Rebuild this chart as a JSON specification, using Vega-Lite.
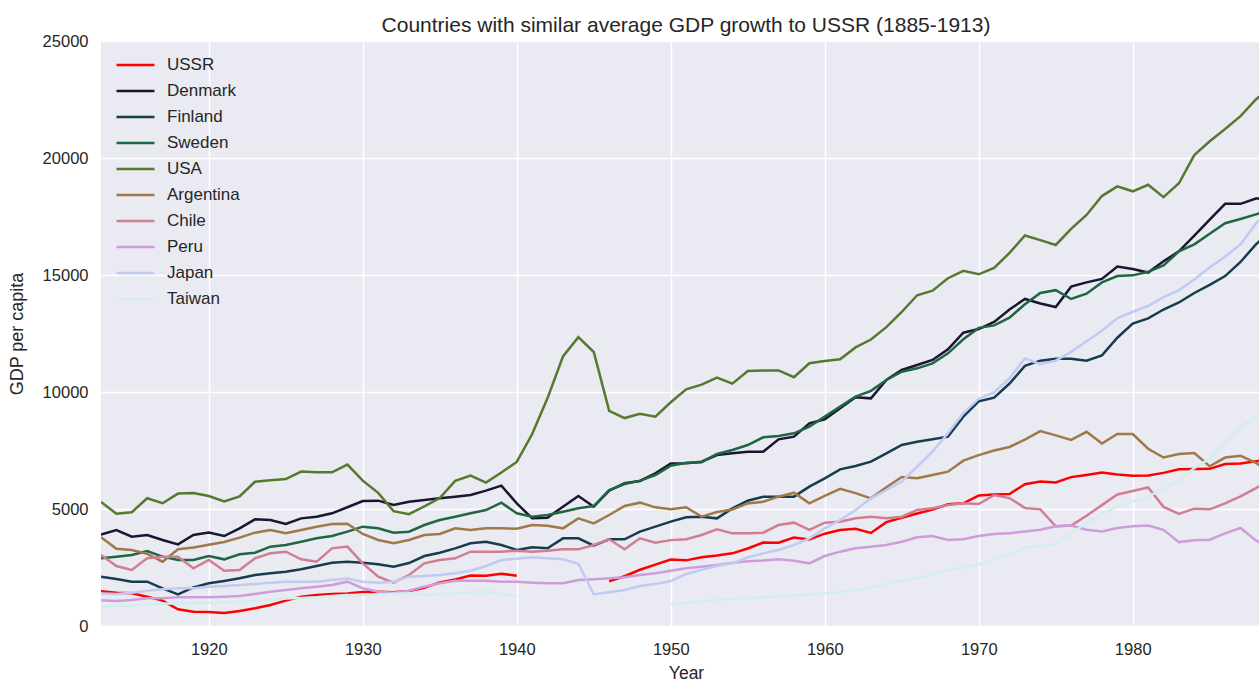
{
"$schema":"https://vega.github.io/schema/vega-lite/v6.json",
"width":1158,"height":585,
"autosize":{"type":"none"},
"padding":{"left":101,"top":41,"right":0,"bottom":56},
"background":"white",
"title":{"text":"Countries with similar average GDP growth to USSR (1885-1913)","font":"Liberation Sans","fontSize":21,"fontWeight":"normal","color":"#262626","anchor":"middle","offset":-3,"dx":6},
"config":{"view":{"fill":"#eaeaf2","stroke":null},
"axis":{"grid":true,"gridColor":"white","gridWidth":1.5,"domain":false,"ticks":false,"tickSize":0,"labelFont":"Liberation Sans","labelFontSize":16.5,"labelColor":"#262626","titleFont":"Liberation Sans","titleFontSize":18,"titleFontWeight":"normal","titleColor":"#262626"}},
"datasets":{"gdp":[
{"Country":"USSR","Year":1913,"GDP":1488},{"Country":"USSR","Year":1914,"GDP":1425},{"Country":"USSR","Year":1915,"GDP":1396},{"Country":"USSR","Year":1916,"GDP":1254},{"Country":"USSR","Year":1917,"GDP":1083},{"Country":"USSR","Year":1918,"GDP":712},{"Country":"USSR","Year":1919,"GDP":613},{"Country":"USSR","Year":1920,"GDP":600},{"Country":"USSR","Year":1921,"GDP":560},{"Country":"USSR","Year":1922,"GDP":640},{"Country":"USSR","Year":1923,"GDP":755},{"Country":"USSR","Year":1924,"GDP":897},{"Country":"USSR","Year":1925,"GDP":1083},{"Country":"USSR","Year":1926,"GDP":1254},{"Country":"USSR","Year":1927,"GDP":1325},{"Country":"USSR","Year":1928,"GDP":1370},{"Country":"USSR","Year":1929,"GDP":1386},{"Country":"USSR","Year":1930,"GDP":1448},{"Country":"USSR","Year":1931,"GDP":1462},{"Country":"USSR","Year":1932,"GDP":1439},{"Country":"USSR","Year":1933,"GDP":1493},{"Country":"USSR","Year":1934,"GDP":1630},{"Country":"USSR","Year":1935,"GDP":1864},{"Country":"USSR","Year":1936,"GDP":1991},{"Country":"USSR","Year":1937,"GDP":2156},{"Country":"USSR","Year":1938,"GDP":2150},{"Country":"USSR","Year":1939,"GDP":2237},{"Country":"USSR","Year":1940,"GDP":2144},{"Country":"USSR","Year":1941,"GDP":null},{"Country":"USSR","Year":1942,"GDP":null},{"Country":"USSR","Year":1943,"GDP":null},{"Country":"USSR","Year":1944,"GDP":null},{"Country":"USSR","Year":1945,"GDP":null},{"Country":"USSR","Year":1946,"GDP":1913},{"Country":"USSR","Year":1947,"GDP":2126},{"Country":"USSR","Year":1948,"GDP":2402},{"Country":"USSR","Year":1949,"GDP":2623},{"Country":"USSR","Year":1950,"GDP":2841},{"Country":"USSR","Year":1951,"GDP":2805},{"Country":"USSR","Year":1952,"GDP":2937},{"Country":"USSR","Year":1953,"GDP":3013},{"Country":"USSR","Year":1954,"GDP":3106},{"Country":"USSR","Year":1955,"GDP":3313},{"Country":"USSR","Year":1956,"GDP":3566},{"Country":"USSR","Year":1957,"GDP":3557},{"Country":"USSR","Year":1958,"GDP":3777},{"Country":"USSR","Year":1959,"GDP":3693},{"Country":"USSR","Year":1960,"GDP":3945},{"Country":"USSR","Year":1961,"GDP":4098},{"Country":"USSR","Year":1962,"GDP":4155},{"Country":"USSR","Year":1963,"GDP":3976},{"Country":"USSR","Year":1964,"GDP":4439},{"Country":"USSR","Year":1965,"GDP":4626},{"Country":"USSR","Year":1966,"GDP":4806},{"Country":"USSR","Year":1967,"GDP":4972},{"Country":"USSR","Year":1968,"GDP":5202},{"Country":"USSR","Year":1969,"GDP":5243},{"Country":"USSR","Year":1970,"GDP":5575},{"Country":"USSR","Year":1971,"GDP":5621},{"Country":"USSR","Year":1972,"GDP":5643},{"Country":"USSR","Year":1973,"GDP":6059},{"Country":"USSR","Year":1974,"GDP":6176},{"Country":"USSR","Year":1975,"GDP":6135},{"Country":"USSR","Year":1976,"GDP":6363},{"Country":"USSR","Year":1977,"GDP":6454},{"Country":"USSR","Year":1978,"GDP":6559},{"Country":"USSR","Year":1979,"GDP":6472},{"Country":"USSR","Year":1980,"GDP":6426},{"Country":"USSR","Year":1981,"GDP":6432},{"Country":"USSR","Year":1982,"GDP":6544},{"Country":"USSR","Year":1983,"GDP":6694},{"Country":"USSR","Year":1984,"GDP":6713},{"Country":"USSR","Year":1985,"GDP":6715},{"Country":"USSR","Year":1986,"GDP":6924},{"Country":"USSR","Year":1987,"GDP":6943},{"Country":"USSR","Year":1988,"GDP":7043},{"Country":"USSR","Year":1989,"GDP":7100},
{"Country":"Denmark","Year":1913,"GDP":3912},{"Country":"Denmark","Year":1914,"GDP":4100},{"Country":"Denmark","Year":1915,"GDP":3818},{"Country":"Denmark","Year":1916,"GDP":3890},{"Country":"Denmark","Year":1917,"GDP":3675},{"Country":"Denmark","Year":1918,"GDP":3490},{"Country":"Denmark","Year":1919,"GDP":3890},{"Country":"Denmark","Year":1920,"GDP":3990},{"Country":"Denmark","Year":1921,"GDP":3846},{"Country":"Denmark","Year":1922,"GDP":4174},{"Country":"Denmark","Year":1923,"GDP":4558},{"Country":"Denmark","Year":1924,"GDP":4530},{"Country":"Denmark","Year":1925,"GDP":4359},{"Country":"Denmark","Year":1926,"GDP":4600},{"Country":"Denmark","Year":1927,"GDP":4672},{"Country":"Denmark","Year":1928,"GDP":4815},{"Country":"Denmark","Year":1929,"GDP":5075},{"Country":"Denmark","Year":1930,"GDP":5341},{"Country":"Denmark","Year":1931,"GDP":5356},{"Country":"Denmark","Year":1932,"GDP":5171},{"Country":"Denmark","Year":1933,"GDP":5313},{"Country":"Denmark","Year":1934,"GDP":5385},{"Country":"Denmark","Year":1935,"GDP":5456},{"Country":"Denmark","Year":1936,"GDP":5527},{"Country":"Denmark","Year":1937,"GDP":5598},{"Country":"Denmark","Year":1938,"GDP":5783},{"Country":"Denmark","Year":1939,"GDP":5997},{"Country":"Denmark","Year":1940,"GDP":5242},{"Country":"Denmark","Year":1941,"GDP":4601},{"Country":"Denmark","Year":1942,"GDP":4630},{"Country":"Denmark","Year":1943,"GDP":5100},{"Country":"Denmark","Year":1944,"GDP":5556},{"Country":"Denmark","Year":1945,"GDP":5100},{"Country":"Denmark","Year":1946,"GDP":5783},{"Country":"Denmark","Year":1947,"GDP":6097},{"Country":"Denmark","Year":1948,"GDP":6197},{"Country":"Denmark","Year":1949,"GDP":6524},{"Country":"Denmark","Year":1950,"GDP":6943},{"Country":"Denmark","Year":1951,"GDP":6952},{"Country":"Denmark","Year":1952,"GDP":7023},{"Country":"Denmark","Year":1953,"GDP":7308},{"Country":"Denmark","Year":1954,"GDP":7379},{"Country":"Denmark","Year":1955,"GDP":7450},{"Country":"Denmark","Year":1956,"GDP":7450},{"Country":"Denmark","Year":1957,"GDP":7977},{"Country":"Denmark","Year":1958,"GDP":8091},{"Country":"Denmark","Year":1959,"GDP":8661},{"Country":"Denmark","Year":1960,"GDP":8832},{"Country":"Denmark","Year":1961,"GDP":9302},{"Country":"Denmark","Year":1962,"GDP":9772},{"Country":"Denmark","Year":1963,"GDP":9729},{"Country":"Denmark","Year":1964,"GDP":10513},{"Country":"Denmark","Year":1965,"GDP":10940},{"Country":"Denmark","Year":1966,"GDP":11154},{"Country":"Denmark","Year":1967,"GDP":11368},{"Country":"Denmark","Year":1968,"GDP":11823},{"Country":"Denmark","Year":1969,"GDP":12536},{"Country":"Denmark","Year":1970,"GDP":12690},{"Country":"Denmark","Year":1971,"GDP":12997},{"Country":"Denmark","Year":1972,"GDP":13524},{"Country":"Denmark","Year":1973,"GDP":13976},{"Country":"Denmark","Year":1974,"GDP":13780},{"Country":"Denmark","Year":1975,"GDP":13630},{"Country":"Denmark","Year":1976,"GDP":14503},{"Country":"Denmark","Year":1977,"GDP":14684},{"Country":"Denmark","Year":1978,"GDP":14834},{"Country":"Denmark","Year":1979,"GDP":15362},{"Country":"Denmark","Year":1980,"GDP":15256},{"Country":"Denmark","Year":1981,"GDP":15105},{"Country":"Denmark","Year":1982,"GDP":15587},{"Country":"Denmark","Year":1983,"GDP":16009},{"Country":"Denmark","Year":1984,"GDP":16687},{"Country":"Denmark","Year":1985,"GDP":17365},{"Country":"Denmark","Year":1986,"GDP":18042},{"Country":"Denmark","Year":1987,"GDP":18042},{"Country":"Denmark","Year":1988,"GDP":18268},{"Country":"Denmark","Year":1989,"GDP":18300},
{"Country":"Finland","Year":1913,"GDP":2108},{"Country":"Finland","Year":1914,"GDP":2009},{"Country":"Finland","Year":1915,"GDP":1895},{"Country":"Finland","Year":1916,"GDP":1895},{"Country":"Finland","Year":1917,"GDP":1610},{"Country":"Finland","Year":1918,"GDP":1353},{"Country":"Finland","Year":1919,"GDP":1652},{"Country":"Finland","Year":1920,"GDP":1823},{"Country":"Finland","Year":1921,"GDP":1923},{"Country":"Finland","Year":1922,"GDP":2037},{"Country":"Finland","Year":1923,"GDP":2179},{"Country":"Finland","Year":1924,"GDP":2251},{"Country":"Finland","Year":1925,"GDP":2322},{"Country":"Finland","Year":1926,"GDP":2422},{"Country":"Finland","Year":1927,"GDP":2564},{"Country":"Finland","Year":1928,"GDP":2707},{"Country":"Finland","Year":1929,"GDP":2749},{"Country":"Finland","Year":1930,"GDP":2707},{"Country":"Finland","Year":1931,"GDP":2635},{"Country":"Finland","Year":1932,"GDP":2536},{"Country":"Finland","Year":1933,"GDP":2690},{"Country":"Finland","Year":1934,"GDP":2991},{"Country":"Finland","Year":1935,"GDP":3134},{"Country":"Finland","Year":1936,"GDP":3319},{"Country":"Finland","Year":1937,"GDP":3533},{"Country":"Finland","Year":1938,"GDP":3604},{"Country":"Finland","Year":1939,"GDP":3462},{"Country":"Finland","Year":1940,"GDP":3248},{"Country":"Finland","Year":1941,"GDP":3362},{"Country":"Finland","Year":1942,"GDP":3319},{"Country":"Finland","Year":1943,"GDP":3746},{"Country":"Finland","Year":1944,"GDP":3746},{"Country":"Finland","Year":1945,"GDP":3433},{"Country":"Finland","Year":1946,"GDP":3704},{"Country":"Finland","Year":1947,"GDP":3704},{"Country":"Finland","Year":1948,"GDP":4031},{"Country":"Finland","Year":1949,"GDP":4245},{"Country":"Finland","Year":1950,"GDP":4459},{"Country":"Finland","Year":1951,"GDP":4644},{"Country":"Finland","Year":1952,"GDP":4672},{"Country":"Finland","Year":1953,"GDP":4601},{"Country":"Finland","Year":1954,"GDP":5028},{"Country":"Finland","Year":1955,"GDP":5356},{"Country":"Finland","Year":1956,"GDP":5527},{"Country":"Finland","Year":1957,"GDP":5527},{"Country":"Finland","Year":1958,"GDP":5527},{"Country":"Finland","Year":1959,"GDP":5954},{"Country":"Finland","Year":1960,"GDP":6311},{"Country":"Finland","Year":1961,"GDP":6695},{"Country":"Finland","Year":1962,"GDP":6838},{"Country":"Finland","Year":1963,"GDP":7023},{"Country":"Finland","Year":1964,"GDP":7379},{"Country":"Finland","Year":1965,"GDP":7735},{"Country":"Finland","Year":1966,"GDP":7877},{"Country":"Finland","Year":1967,"GDP":7977},{"Country":"Finland","Year":1968,"GDP":8091},{"Country":"Finland","Year":1969,"GDP":8946},{"Country":"Finland","Year":1970,"GDP":9600},{"Country":"Finland","Year":1971,"GDP":9759},{"Country":"Finland","Year":1972,"GDP":10362},{"Country":"Finland","Year":1973,"GDP":11115},{"Country":"Finland","Year":1974,"GDP":11340},{"Country":"Finland","Year":1975,"GDP":11416},{"Country":"Finland","Year":1976,"GDP":11416},{"Country":"Finland","Year":1977,"GDP":11340},{"Country":"Finland","Year":1978,"GDP":11566},{"Country":"Finland","Year":1979,"GDP":12319},{"Country":"Finland","Year":1980,"GDP":12922},{"Country":"Finland","Year":1981,"GDP":13147},{"Country":"Finland","Year":1982,"GDP":13524},{"Country":"Finland","Year":1983,"GDP":13825},{"Country":"Finland","Year":1984,"GDP":14232},{"Country":"Finland","Year":1985,"GDP":14578},{"Country":"Finland","Year":1986,"GDP":14955},{"Country":"Finland","Year":1987,"GDP":15557},{"Country":"Finland","Year":1988,"GDP":16310},{"Country":"Finland","Year":1989,"GDP":16900},
{"Country":"Sweden","Year":1913,"GDP":2892},{"Country":"Sweden","Year":1914,"GDP":2963},{"Country":"Sweden","Year":1915,"GDP":3034},{"Country":"Sweden","Year":1916,"GDP":3205},{"Country":"Sweden","Year":1917,"GDP":2963},{"Country":"Sweden","Year":1918,"GDP":2821},{"Country":"Sweden","Year":1919,"GDP":2821},{"Country":"Sweden","Year":1920,"GDP":2991},{"Country":"Sweden","Year":1921,"GDP":2849},{"Country":"Sweden","Year":1922,"GDP":3063},{"Country":"Sweden","Year":1923,"GDP":3134},{"Country":"Sweden","Year":1924,"GDP":3390},{"Country":"Sweden","Year":1925,"GDP":3462},{"Country":"Sweden","Year":1926,"GDP":3604},{"Country":"Sweden","Year":1927,"GDP":3746},{"Country":"Sweden","Year":1928,"GDP":3846},{"Country":"Sweden","Year":1929,"GDP":4031},{"Country":"Sweden","Year":1930,"GDP":4245},{"Country":"Sweden","Year":1931,"GDP":4174},{"Country":"Sweden","Year":1932,"GDP":3989},{"Country":"Sweden","Year":1933,"GDP":4031},{"Country":"Sweden","Year":1934,"GDP":4316},{"Country":"Sweden","Year":1935,"GDP":4530},{"Country":"Sweden","Year":1936,"GDP":4672},{"Country":"Sweden","Year":1937,"GDP":4815},{"Country":"Sweden","Year":1938,"GDP":4957},{"Country":"Sweden","Year":1939,"GDP":5271},{"Country":"Sweden","Year":1940,"GDP":4815},{"Country":"Sweden","Year":1941,"GDP":4672},{"Country":"Sweden","Year":1942,"GDP":4744},{"Country":"Sweden","Year":1943,"GDP":4886},{"Country":"Sweden","Year":1944,"GDP":5028},{"Country":"Sweden","Year":1945,"GDP":5128},{"Country":"Sweden","Year":1946,"GDP":5812},{"Country":"Sweden","Year":1947,"GDP":6068},{"Country":"Sweden","Year":1948,"GDP":6211},{"Country":"Sweden","Year":1949,"GDP":6453},{"Country":"Sweden","Year":1950,"GDP":6852},{"Country":"Sweden","Year":1951,"GDP":6980},{"Country":"Sweden","Year":1952,"GDP":7000},{"Country":"Sweden","Year":1953,"GDP":7350},{"Country":"Sweden","Year":1954,"GDP":7521},{"Country":"Sweden","Year":1955,"GDP":7735},{"Country":"Sweden","Year":1956,"GDP":8063},{"Country":"Sweden","Year":1957,"GDP":8120},{"Country":"Sweden","Year":1958,"GDP":8234},{"Country":"Sweden","Year":1959,"GDP":8519},{"Country":"Sweden","Year":1960,"GDP":8946},{"Country":"Sweden","Year":1961,"GDP":9373},{"Country":"Sweden","Year":1962,"GDP":9801},{"Country":"Sweden","Year":1963,"GDP":10050},{"Country":"Sweden","Year":1964,"GDP":10513},{"Country":"Sweden","Year":1965,"GDP":10869},{"Country":"Sweden","Year":1966,"GDP":11011},{"Country":"Sweden","Year":1967,"GDP":11225},{"Country":"Sweden","Year":1968,"GDP":11652},{"Country":"Sweden","Year":1969,"GDP":12251},{"Country":"Sweden","Year":1970,"GDP":12740},{"Country":"Sweden","Year":1971,"GDP":12847},{"Country":"Sweden","Year":1972,"GDP":13178},{"Country":"Sweden","Year":1973,"GDP":13750},{"Country":"Sweden","Year":1974,"GDP":14232},{"Country":"Sweden","Year":1975,"GDP":14352},{"Country":"Sweden","Year":1976,"GDP":13976},{"Country":"Sweden","Year":1977,"GDP":14202},{"Country":"Sweden","Year":1978,"GDP":14684},{"Country":"Sweden","Year":1979,"GDP":14955},{"Country":"Sweden","Year":1980,"GDP":14985},{"Country":"Sweden","Year":1981,"GDP":15136},{"Country":"Sweden","Year":1982,"GDP":15407},{"Country":"Sweden","Year":1983,"GDP":16009},{"Country":"Sweden","Year":1984,"GDP":16310},{"Country":"Sweden","Year":1985,"GDP":16762},{"Country":"Sweden","Year":1986,"GDP":17214},{"Country":"Sweden","Year":1987,"GDP":17395},{"Country":"Sweden","Year":1988,"GDP":17590},{"Country":"Sweden","Year":1989,"GDP":17800},
{"Country":"USA","Year":1913,"GDP":5301},{"Country":"USA","Year":1914,"GDP":4799},{"Country":"USA","Year":1915,"GDP":4864},{"Country":"USA","Year":1916,"GDP":5459},{"Country":"USA","Year":1917,"GDP":5248},{"Country":"USA","Year":1918,"GDP":5659},{"Country":"USA","Year":1919,"GDP":5680},{"Country":"USA","Year":1920,"GDP":5552},{"Country":"USA","Year":1921,"GDP":5323},{"Country":"USA","Year":1922,"GDP":5540},{"Country":"USA","Year":1923,"GDP":6164},{"Country":"USA","Year":1924,"GDP":6233},{"Country":"USA","Year":1925,"GDP":6282},{"Country":"USA","Year":1926,"GDP":6602},{"Country":"USA","Year":1927,"GDP":6575},{"Country":"USA","Year":1928,"GDP":6569},{"Country":"USA","Year":1929,"GDP":6899},{"Country":"USA","Year":1930,"GDP":6213},{"Country":"USA","Year":1931,"GDP":5691},{"Country":"USA","Year":1932,"GDP":4908},{"Country":"USA","Year":1933,"GDP":4777},{"Country":"USA","Year":1934,"GDP":5114},{"Country":"USA","Year":1935,"GDP":5467},{"Country":"USA","Year":1936,"GDP":6204},{"Country":"USA","Year":1937,"GDP":6430},{"Country":"USA","Year":1938,"GDP":6126},{"Country":"USA","Year":1939,"GDP":6561},{"Country":"USA","Year":1940,"GDP":7010},{"Country":"USA","Year":1941,"GDP":8206},{"Country":"USA","Year":1942,"GDP":9741},{"Country":"USA","Year":1943,"GDP":11518},{"Country":"USA","Year":1944,"GDP":12341},{"Country":"USA","Year":1945,"GDP":11709},{"Country":"USA","Year":1946,"GDP":9197},{"Country":"USA","Year":1947,"GDP":8886},{"Country":"USA","Year":1948,"GDP":9065},{"Country":"USA","Year":1949,"GDP":8944},{"Country":"USA","Year":1950,"GDP":9561},{"Country":"USA","Year":1951,"GDP":10116},{"Country":"USA","Year":1952,"GDP":10316},{"Country":"USA","Year":1953,"GDP":10613},{"Country":"USA","Year":1954,"GDP":10359},{"Country":"USA","Year":1955,"GDP":10897},{"Country":"USA","Year":1956,"GDP":10914},{"Country":"USA","Year":1957,"GDP":10920},{"Country":"USA","Year":1958,"GDP":10631},{"Country":"USA","Year":1959,"GDP":11230},{"Country":"USA","Year":1960,"GDP":11328},{"Country":"USA","Year":1961,"GDP":11402},{"Country":"USA","Year":1962,"GDP":11905},{"Country":"USA","Year":1963,"GDP":12242},{"Country":"USA","Year":1964,"GDP":12773},{"Country":"USA","Year":1965,"GDP":13419},{"Country":"USA","Year":1966,"GDP":14134},{"Country":"USA","Year":1967,"GDP":14330},{"Country":"USA","Year":1968,"GDP":14863},{"Country":"USA","Year":1969,"GDP":15179},{"Country":"USA","Year":1970,"GDP":15030},{"Country":"USA","Year":1971,"GDP":15304},{"Country":"USA","Year":1972,"GDP":15944},{"Country":"USA","Year":1973,"GDP":16689},{"Country":"USA","Year":1974,"GDP":16491},{"Country":"USA","Year":1975,"GDP":16284},{"Country":"USA","Year":1976,"GDP":16975},{"Country":"USA","Year":1977,"GDP":17567},{"Country":"USA","Year":1978,"GDP":18373},{"Country":"USA","Year":1979,"GDP":18789},{"Country":"USA","Year":1980,"GDP":18577},{"Country":"USA","Year":1981,"GDP":18856},{"Country":"USA","Year":1982,"GDP":18325},{"Country":"USA","Year":1983,"GDP":18920},{"Country":"USA","Year":1984,"GDP":20123},{"Country":"USA","Year":1985,"GDP":20717},{"Country":"USA","Year":1986,"GDP":21236},{"Country":"USA","Year":1987,"GDP":21788},{"Country":"USA","Year":1988,"GDP":22499},{"Country":"USA","Year":1989,"GDP":23059},
{"Country":"Argentina","Year":1913,"GDP":3797},{"Country":"Argentina","Year":1914,"GDP":3302},{"Country":"Argentina","Year":1915,"GDP":3244},{"Country":"Argentina","Year":1916,"GDP":3081},{"Country":"Argentina","Year":1917,"GDP":2750},{"Country":"Argentina","Year":1918,"GDP":3277},{"Country":"Argentina","Year":1919,"GDP":3356},{"Country":"Argentina","Year":1920,"GDP":3473},{"Country":"Argentina","Year":1921,"GDP":3589},{"Country":"Argentina","Year":1922,"GDP":3778},{"Country":"Argentina","Year":1923,"GDP":3989},{"Country":"Argentina","Year":1924,"GDP":4103},{"Country":"Argentina","Year":1925,"GDP":3960},{"Country":"Argentina","Year":1926,"GDP":4103},{"Country":"Argentina","Year":1927,"GDP":4245},{"Country":"Argentina","Year":1928,"GDP":4359},{"Country":"Argentina","Year":1929,"GDP":4367},{"Country":"Argentina","Year":1930,"GDP":3932},{"Country":"Argentina","Year":1931,"GDP":3675},{"Country":"Argentina","Year":1932,"GDP":3533},{"Country":"Argentina","Year":1933,"GDP":3675},{"Country":"Argentina","Year":1934,"GDP":3889},{"Country":"Argentina","Year":1935,"GDP":3932},{"Country":"Argentina","Year":1936,"GDP":4174},{"Country":"Argentina","Year":1937,"GDP":4103},{"Country":"Argentina","Year":1938,"GDP":4174},{"Country":"Argentina","Year":1939,"GDP":4174},{"Country":"Argentina","Year":1940,"GDP":4161},{"Country":"Argentina","Year":1941,"GDP":4316},{"Country":"Argentina","Year":1942,"GDP":4288},{"Country":"Argentina","Year":1943,"GDP":4174},{"Country":"Argentina","Year":1944,"GDP":4601},{"Country":"Argentina","Year":1945,"GDP":4387},{"Country":"Argentina","Year":1946,"GDP":4744},{"Country":"Argentina","Year":1947,"GDP":5128},{"Country":"Argentina","Year":1948,"GDP":5271},{"Country":"Argentina","Year":1949,"GDP":5071},{"Country":"Argentina","Year":1950,"GDP":4987},{"Country":"Argentina","Year":1951,"GDP":5073},{"Country":"Argentina","Year":1952,"GDP":4672},{"Country":"Argentina","Year":1953,"GDP":4874},{"Country":"Argentina","Year":1954,"GDP":4981},{"Country":"Argentina","Year":1955,"GDP":5237},{"Country":"Argentina","Year":1956,"GDP":5313},{"Country":"Argentina","Year":1957,"GDP":5527},{"Country":"Argentina","Year":1958,"GDP":5698},{"Country":"Argentina","Year":1959,"GDP":5242},{"Country":"Argentina","Year":1960,"GDP":5559},{"Country":"Argentina","Year":1961,"GDP":5862},{"Country":"Argentina","Year":1962,"GDP":5677},{"Country":"Argentina","Year":1963,"GDP":5455},{"Country":"Argentina","Year":1964,"GDP":5926},{"Country":"Argentina","Year":1965,"GDP":6371},{"Country":"Argentina","Year":1966,"GDP":6311},{"Country":"Argentina","Year":1967,"GDP":6453},{"Country":"Argentina","Year":1968,"GDP":6595},{"Country":"Argentina","Year":1969,"GDP":7066},{"Country":"Argentina","Year":1970,"GDP":7302},{"Country":"Argentina","Year":1971,"GDP":7500},{"Country":"Argentina","Year":1972,"GDP":7651},{"Country":"Argentina","Year":1973,"GDP":7962},{"Country":"Argentina","Year":1974,"GDP":8329},{"Country":"Argentina","Year":1975,"GDP":8148},{"Country":"Argentina","Year":1976,"GDP":7952},{"Country":"Argentina","Year":1977,"GDP":8299},{"Country":"Argentina","Year":1978,"GDP":7801},{"Country":"Argentina","Year":1979,"GDP":8208},{"Country":"Argentina","Year":1980,"GDP":8206},{"Country":"Argentina","Year":1981,"GDP":7575},{"Country":"Argentina","Year":1982,"GDP":7199},{"Country":"Argentina","Year":1983,"GDP":7350},{"Country":"Argentina","Year":1984,"GDP":7395},{"Country":"Argentina","Year":1985,"GDP":6823},{"Country":"Argentina","Year":1986,"GDP":7199},{"Country":"Argentina","Year":1987,"GDP":7274},{"Country":"Argentina","Year":1988,"GDP":6974},{"Country":"Argentina","Year":1989,"GDP":6500},
{"Country":"Chile","Year":1913,"GDP":3034},{"Country":"Chile","Year":1914,"GDP":2564},{"Country":"Chile","Year":1915,"GDP":2393},{"Country":"Chile","Year":1916,"GDP":2892},{"Country":"Chile","Year":1917,"GDP":2963},{"Country":"Chile","Year":1918,"GDP":2963},{"Country":"Chile","Year":1919,"GDP":2464},{"Country":"Chile","Year":1920,"GDP":2821},{"Country":"Chile","Year":1921,"GDP":2365},{"Country":"Chile","Year":1922,"GDP":2393},{"Country":"Chile","Year":1923,"GDP":2892},{"Country":"Chile","Year":1924,"GDP":3105},{"Country":"Chile","Year":1925,"GDP":3177},{"Country":"Chile","Year":1926,"GDP":2849},{"Country":"Chile","Year":1927,"GDP":2749},{"Country":"Chile","Year":1928,"GDP":3319},{"Country":"Chile","Year":1929,"GDP":3396},{"Country":"Chile","Year":1930,"GDP":2678},{"Country":"Chile","Year":1931,"GDP":2108},{"Country":"Chile","Year":1932,"GDP":1852},{"Country":"Chile","Year":1933,"GDP":2179},{"Country":"Chile","Year":1934,"GDP":2678},{"Country":"Chile","Year":1935,"GDP":2821},{"Country":"Chile","Year":1936,"GDP":2892},{"Country":"Chile","Year":1937,"GDP":3177},{"Country":"Chile","Year":1938,"GDP":3177},{"Country":"Chile","Year":1939,"GDP":3177},{"Country":"Chile","Year":1940,"GDP":3219},{"Country":"Chile","Year":1941,"GDP":3177},{"Country":"Chile","Year":1942,"GDP":3219},{"Country":"Chile","Year":1943,"GDP":3276},{"Country":"Chile","Year":1944,"GDP":3276},{"Country":"Chile","Year":1945,"GDP":3462},{"Country":"Chile","Year":1946,"GDP":3704},{"Country":"Chile","Year":1947,"GDP":3276},{"Country":"Chile","Year":1948,"GDP":3746},{"Country":"Chile","Year":1949,"GDP":3561},{"Country":"Chile","Year":1950,"GDP":3670},{"Country":"Chile","Year":1951,"GDP":3704},{"Country":"Chile","Year":1952,"GDP":3889},{"Country":"Chile","Year":1953,"GDP":4131},{"Country":"Chile","Year":1954,"GDP":3960},{"Country":"Chile","Year":1955,"GDP":3960},{"Country":"Chile","Year":1956,"GDP":3989},{"Country":"Chile","Year":1957,"GDP":4316},{"Country":"Chile","Year":1958,"GDP":4416},{"Country":"Chile","Year":1959,"GDP":4103},{"Country":"Chile","Year":1960,"GDP":4416},{"Country":"Chile","Year":1961,"GDP":4459},{"Country":"Chile","Year":1962,"GDP":4601},{"Country":"Chile","Year":1963,"GDP":4672},{"Country":"Chile","Year":1964,"GDP":4601},{"Country":"Chile","Year":1965,"GDP":4672},{"Country":"Chile","Year":1966,"GDP":4957},{"Country":"Chile","Year":1967,"GDP":5028},{"Country":"Chile","Year":1968,"GDP":5171},{"Country":"Chile","Year":1969,"GDP":5242},{"Country":"Chile","Year":1970,"GDP":5214},{"Country":"Chile","Year":1971,"GDP":5598},{"Country":"Chile","Year":1972,"GDP":5467},{"Country":"Chile","Year":1973,"GDP":5046},{"Country":"Chile","Year":1974,"GDP":4985},{"Country":"Chile","Year":1975,"GDP":4262},{"Country":"Chile","Year":1976,"GDP":4292},{"Country":"Chile","Year":1977,"GDP":4714},{"Country":"Chile","Year":1978,"GDP":5166},{"Country":"Chile","Year":1979,"GDP":5618},{"Country":"Chile","Year":1980,"GDP":5768},{"Country":"Chile","Year":1981,"GDP":5919},{"Country":"Chile","Year":1982,"GDP":5091},{"Country":"Chile","Year":1983,"GDP":4789},{"Country":"Chile","Year":1984,"GDP":5015},{"Country":"Chile","Year":1985,"GDP":4985},{"Country":"Chile","Year":1986,"GDP":5241},{"Country":"Chile","Year":1987,"GDP":5542},{"Country":"Chile","Year":1988,"GDP":5889},{"Country":"Chile","Year":1989,"GDP":6300},
{"Country":"Peru","Year":1913,"GDP":1100},{"Country":"Peru","Year":1914,"GDP":1068},{"Country":"Peru","Year":1915,"GDP":1111},{"Country":"Peru","Year":1916,"GDP":1182},{"Country":"Peru","Year":1917,"GDP":1182},{"Country":"Peru","Year":1918,"GDP":1225},{"Country":"Peru","Year":1919,"GDP":1225},{"Country":"Peru","Year":1920,"GDP":1225},{"Country":"Peru","Year":1921,"GDP":1254},{"Country":"Peru","Year":1922,"GDP":1282},{"Country":"Peru","Year":1923,"GDP":1368},{"Country":"Peru","Year":1924,"GDP":1467},{"Country":"Peru","Year":1925,"GDP":1538},{"Country":"Peru","Year":1926,"GDP":1610},{"Country":"Peru","Year":1927,"GDP":1681},{"Country":"Peru","Year":1928,"GDP":1752},{"Country":"Peru","Year":1929,"GDP":1895},{"Country":"Peru","Year":1930,"GDP":1610},{"Country":"Peru","Year":1931,"GDP":1467},{"Country":"Peru","Year":1932,"GDP":1425},{"Country":"Peru","Year":1933,"GDP":1510},{"Country":"Peru","Year":1934,"GDP":1681},{"Country":"Peru","Year":1935,"GDP":1823},{"Country":"Peru","Year":1936,"GDP":1937},{"Country":"Peru","Year":1937,"GDP":1937},{"Country":"Peru","Year":1938,"GDP":1937},{"Country":"Peru","Year":1939,"GDP":1895},{"Country":"Peru","Year":1940,"GDP":1895},{"Country":"Peru","Year":1941,"GDP":1852},{"Country":"Peru","Year":1942,"GDP":1823},{"Country":"Peru","Year":1943,"GDP":1823},{"Country":"Peru","Year":1944,"GDP":1966},{"Country":"Peru","Year":1945,"GDP":1994},{"Country":"Peru","Year":1946,"GDP":2037},{"Country":"Peru","Year":1947,"GDP":2080},{"Country":"Peru","Year":1948,"GDP":2179},{"Country":"Peru","Year":1949,"GDP":2251},{"Country":"Peru","Year":1950,"GDP":2365},{"Country":"Peru","Year":1951,"GDP":2464},{"Country":"Peru","Year":1952,"GDP":2536},{"Country":"Peru","Year":1953,"GDP":2607},{"Country":"Peru","Year":1954,"GDP":2700},{"Country":"Peru","Year":1955,"GDP":2770},{"Country":"Peru","Year":1956,"GDP":2800},{"Country":"Peru","Year":1957,"GDP":2849},{"Country":"Peru","Year":1958,"GDP":2792},{"Country":"Peru","Year":1959,"GDP":2678},{"Country":"Peru","Year":1960,"GDP":2991},{"Country":"Peru","Year":1961,"GDP":3177},{"Country":"Peru","Year":1962,"GDP":3319},{"Country":"Peru","Year":1963,"GDP":3390},{"Country":"Peru","Year":1964,"GDP":3462},{"Country":"Peru","Year":1965,"GDP":3604},{"Country":"Peru","Year":1966,"GDP":3789},{"Country":"Peru","Year":1967,"GDP":3846},{"Country":"Peru","Year":1968,"GDP":3675},{"Country":"Peru","Year":1969,"GDP":3704},{"Country":"Peru","Year":1970,"GDP":3850},{"Country":"Peru","Year":1971,"GDP":3931},{"Country":"Peru","Year":1972,"GDP":3961},{"Country":"Peru","Year":1973,"GDP":4036},{"Country":"Peru","Year":1974,"GDP":4112},{"Country":"Peru","Year":1975,"GDP":4262},{"Country":"Peru","Year":1976,"GDP":4292},{"Country":"Peru","Year":1977,"GDP":4112},{"Country":"Peru","Year":1978,"GDP":4036},{"Country":"Peru","Year":1979,"GDP":4187},{"Country":"Peru","Year":1980,"GDP":4262},{"Country":"Peru","Year":1981,"GDP":4292},{"Country":"Peru","Year":1982,"GDP":4112},{"Country":"Peru","Year":1983,"GDP":3585},{"Country":"Peru","Year":1984,"GDP":3660},{"Country":"Peru","Year":1985,"GDP":3690},{"Country":"Peru","Year":1986,"GDP":3961},{"Country":"Peru","Year":1987,"GDP":4187},{"Country":"Peru","Year":1988,"GDP":3660},{"Country":"Peru","Year":1989,"GDP":3300},
{"Country":"Japan","Year":1913,"GDP":1387},{"Country":"Japan","Year":1914,"GDP":1368},{"Country":"Japan","Year":1915,"GDP":1425},{"Country":"Japan","Year":1916,"GDP":1510},{"Country":"Japan","Year":1917,"GDP":1567},{"Country":"Japan","Year":1918,"GDP":1610},{"Country":"Japan","Year":1919,"GDP":1610},{"Country":"Japan","Year":1920,"GDP":1681},{"Country":"Japan","Year":1921,"GDP":1709},{"Country":"Japan","Year":1922,"GDP":1752},{"Country":"Japan","Year":1923,"GDP":1795},{"Country":"Japan","Year":1924,"GDP":1852},{"Country":"Japan","Year":1925,"GDP":1895},{"Country":"Japan","Year":1926,"GDP":1895},{"Country":"Japan","Year":1927,"GDP":1895},{"Country":"Japan","Year":1928,"GDP":1966},{"Country":"Japan","Year":1929,"GDP":2026},{"Country":"Japan","Year":1930,"GDP":1895},{"Country":"Japan","Year":1931,"GDP":1850},{"Country":"Japan","Year":1932,"GDP":1895},{"Country":"Japan","Year":1933,"GDP":2108},{"Country":"Japan","Year":1934,"GDP":2137},{"Country":"Japan","Year":1935,"GDP":2179},{"Country":"Japan","Year":1936,"GDP":2251},{"Country":"Japan","Year":1937,"GDP":2365},{"Country":"Japan","Year":1938,"GDP":2564},{"Country":"Japan","Year":1939,"GDP":2821},{"Country":"Japan","Year":1940,"GDP":2874},{"Country":"Japan","Year":1941,"GDP":2934},{"Country":"Japan","Year":1942,"GDP":2892},{"Country":"Japan","Year":1943,"GDP":2849},{"Country":"Japan","Year":1944,"GDP":2659},{"Country":"Japan","Year":1945,"GDP":1346},{"Country":"Japan","Year":1946,"GDP":1444},{"Country":"Japan","Year":1947,"GDP":1538},{"Country":"Japan","Year":1948,"GDP":1709},{"Country":"Japan","Year":1949,"GDP":1795},{"Country":"Japan","Year":1950,"GDP":1921},{"Country":"Japan","Year":1951,"GDP":2222},{"Country":"Japan","Year":1952,"GDP":2400},{"Country":"Japan","Year":1953,"GDP":2564},{"Country":"Japan","Year":1954,"GDP":2678},{"Country":"Japan","Year":1955,"GDP":2934},{"Country":"Japan","Year":1956,"GDP":3105},{"Country":"Japan","Year":1957,"GDP":3248},{"Country":"Japan","Year":1958,"GDP":3462},{"Country":"Japan","Year":1959,"GDP":3746},{"Country":"Japan","Year":1960,"GDP":4174},{"Country":"Japan","Year":1961,"GDP":4530},{"Country":"Japan","Year":1962,"GDP":4957},{"Country":"Japan","Year":1963,"GDP":5456},{"Country":"Japan","Year":1964,"GDP":5812},{"Country":"Japan","Year":1965,"GDP":6168},{"Country":"Japan","Year":1966,"GDP":6809},{"Country":"Japan","Year":1967,"GDP":7450},{"Country":"Japan","Year":1968,"GDP":8234},{"Country":"Japan","Year":1969,"GDP":9088},{"Country":"Japan","Year":1970,"GDP":9714},{"Country":"Japan","Year":1971,"GDP":9985},{"Country":"Japan","Year":1972,"GDP":10588},{"Country":"Japan","Year":1973,"GDP":11434},{"Country":"Japan","Year":1974,"GDP":11190},{"Country":"Japan","Year":1975,"GDP":11340},{"Country":"Japan","Year":1976,"GDP":11717},{"Country":"Japan","Year":1977,"GDP":12169},{"Country":"Japan","Year":1978,"GDP":12621},{"Country":"Japan","Year":1979,"GDP":13147},{"Country":"Japan","Year":1980,"GDP":13428},{"Country":"Japan","Year":1981,"GDP":13675},{"Country":"Japan","Year":1982,"GDP":14051},{"Country":"Japan","Year":1983,"GDP":14353},{"Country":"Japan","Year":1984,"GDP":14804},{"Country":"Japan","Year":1985,"GDP":15331},{"Country":"Japan","Year":1986,"GDP":15783},{"Country":"Japan","Year":1987,"GDP":16310},{"Country":"Japan","Year":1988,"GDP":17200},{"Country":"Japan","Year":1989,"GDP":17900},
{"Country":"Taiwan","Year":1913,"GDP":830},{"Country":"Taiwan","Year":1914,"GDP":850},{"Country":"Taiwan","Year":1915,"GDP":880},{"Country":"Taiwan","Year":1916,"GDP":920},{"Country":"Taiwan","Year":1917,"GDP":960},{"Country":"Taiwan","Year":1918,"GDP":960},{"Country":"Taiwan","Year":1919,"GDP":980},{"Country":"Taiwan","Year":1920,"GDP":990},{"Country":"Taiwan","Year":1921,"GDP":1000},{"Country":"Taiwan","Year":1922,"GDP":1040},{"Country":"Taiwan","Year":1923,"GDP":1080},{"Country":"Taiwan","Year":1924,"GDP":1130},{"Country":"Taiwan","Year":1925,"GDP":1180},{"Country":"Taiwan","Year":1926,"GDP":1200},{"Country":"Taiwan","Year":1927,"GDP":1230},{"Country":"Taiwan","Year":1928,"GDP":1280},{"Country":"Taiwan","Year":1929,"GDP":1320},{"Country":"Taiwan","Year":1930,"GDP":1340},{"Country":"Taiwan","Year":1931,"GDP":1350},{"Country":"Taiwan","Year":1932,"GDP":1380},{"Country":"Taiwan","Year":1933,"GDP":1396},{"Country":"Taiwan","Year":1934,"GDP":1325},{"Country":"Taiwan","Year":1935,"GDP":1360},{"Country":"Taiwan","Year":1936,"GDP":1396},{"Country":"Taiwan","Year":1937,"GDP":1430},{"Country":"Taiwan","Year":1938,"GDP":1467},{"Country":"Taiwan","Year":1939,"GDP":1396},{"Country":"Taiwan","Year":1940,"GDP":1254},{"Country":"Taiwan","Year":1941,"GDP":null},{"Country":"Taiwan","Year":1942,"GDP":null},{"Country":"Taiwan","Year":1943,"GDP":null},{"Country":"Taiwan","Year":1944,"GDP":null},{"Country":"Taiwan","Year":1945,"GDP":null},{"Country":"Taiwan","Year":1946,"GDP":null},{"Country":"Taiwan","Year":1947,"GDP":null},{"Country":"Taiwan","Year":1948,"GDP":null},{"Country":"Taiwan","Year":1949,"GDP":null},{"Country":"Taiwan","Year":1950,"GDP":924},{"Country":"Taiwan","Year":1951,"GDP":997},{"Country":"Taiwan","Year":1952,"GDP":1060},{"Country":"Taiwan","Year":1953,"GDP":1111},{"Country":"Taiwan","Year":1954,"GDP":1160},{"Country":"Taiwan","Year":1955,"GDP":1200},{"Country":"Taiwan","Year":1956,"GDP":1230},{"Country":"Taiwan","Year":1957,"GDP":1270},{"Country":"Taiwan","Year":1958,"GDP":1310},{"Country":"Taiwan","Year":1959,"GDP":1350},{"Country":"Taiwan","Year":1960,"GDP":1396},{"Country":"Taiwan","Year":1961,"GDP":1450},{"Country":"Taiwan","Year":1962,"GDP":1530},{"Country":"Taiwan","Year":1963,"GDP":1650},{"Country":"Taiwan","Year":1964,"GDP":1800},{"Country":"Taiwan","Year":1965,"GDP":1930},{"Country":"Taiwan","Year":1966,"GDP":2050},{"Country":"Taiwan","Year":1967,"GDP":2200},{"Country":"Taiwan","Year":1968,"GDP":2380},{"Country":"Taiwan","Year":1969,"GDP":2500},{"Country":"Taiwan","Year":1970,"GDP":2650},{"Country":"Taiwan","Year":1971,"GDP":2850},{"Country":"Taiwan","Year":1972,"GDP":3050},{"Country":"Taiwan","Year":1973,"GDP":3350},{"Country":"Taiwan","Year":1974,"GDP":3430},{"Country":"Taiwan","Year":1975,"GDP":3510},{"Country":"Taiwan","Year":1976,"GDP":3960},{"Country":"Taiwan","Year":1977,"GDP":4400},{"Country":"Taiwan","Year":1978,"GDP":4790},{"Country":"Taiwan","Year":1979,"GDP":5090},{"Country":"Taiwan","Year":1980,"GDP":5320},{"Country":"Taiwan","Year":1981,"GDP":5540},{"Country":"Taiwan","Year":1982,"GDP":5840},{"Country":"Taiwan","Year":1983,"GDP":6220},{"Country":"Taiwan","Year":1984,"GDP":6750},{"Country":"Taiwan","Year":1985,"GDP":7150},{"Country":"Taiwan","Year":1986,"GDP":7800},{"Country":"Taiwan","Year":1987,"GDP":8500},{"Country":"Taiwan","Year":1988,"GDP":8950},{"Country":"Taiwan","Year":1989,"GDP":9300}
]},
"data":{"name":"gdp"},
"mark":{"type":"line","strokeWidth":2.5,"clip":true},
"encoding":{
"x":{"field":"Year","type":"quantitative","scale":{"domain":[1913,1988.2],"nice":false,"zero":false},"axis":{"title":"Year","values":[1920,1930,1940,1950,1960,1970,1980],"format":"d","labelPadding":15,"titlePadding":7,"titleFontSize":17.5,"titleX":585}},
"y":{"field":"GDP","type":"quantitative","scale":{"domain":[0,25000],"nice":false},"axis":{"title":"GDP per capita","values":[0,5000,10000,15000,20000,25000],"format":"d","labelPadding":13,"titlePadding":16}},
"color":{"field":"Country","type":"nominal","sort":null,"scale":{"domain":["USSR","Denmark","Finland","Sweden","USA","Argentina","Chile","Peru","Japan","Taiwan"],"range":["#ff0000","#1a1530","#163d4e","#1f6642","#54792f","#a07949","#d07e93","#cf9cda","#c1caf3","#d2eeef"]},
"legend":{"title":null,"orient":"none","legendX":14,"legendY":11,"padding":0,"symbolType":"stroke","symbolSize":1444,"symbolStrokeWidth":2.5,"labelFont":"Liberation Sans","labelFontSize":17,"labelColor":"#262626","labelOffset":11,"rowPadding":0,"clipHeight":26}}
}
}
